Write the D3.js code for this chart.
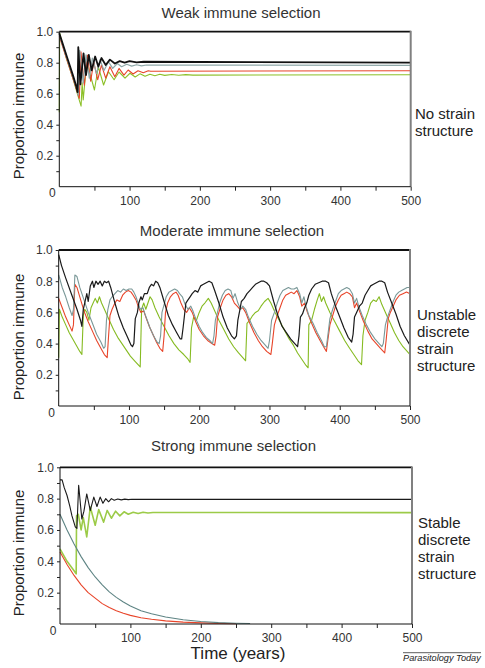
<!DOCTYPE html>
<html>
<head>
<meta charset="utf-8">
<script src="https://cdnjs.cloudflare.com/ajax/libs/d3/7.8.5/d3.min.js"></script>
<style>
  body { margin: 0; background: #fff; }
  svg { display: block; }
  text { font-family: "Liberation Sans", Arial, sans-serif; }
</style>
</head>
<body>
<div id="chart"></div>
<script>

// ---------------- data (time in years, proportion immune) ----------------

var panelTitles = ["Weak immune selection", "Moderate immune selection", "Strong immune selection"];
var sideNotes = [
    ["No strain", "structure"],
    ["Unstable", "discrete", "strain", "structure"],
    ["Stable", "discrete", "strain", "structure"]
];
var yMajor = [0.2, 0.4, 0.6, 0.8, 1.0];
var yMinor = [0.1, 0.3, 0.5, 0.7, 0.9];
var xTicks = [50, 100, 150, 200, 250, 300, 350, 400, 450, 500];
var xLabelled = [100, 200, 300, 400, 500];

// weak immune selection
var weakBlack = [[0,0.99],[5,0.92],[10,0.85],[15,0.78],[20,0.71],[24,0.65],[26,0.61],[27,0.90],[30,0.66],[34.5,0.86],[38,0.72],[42,0.85],[46,0.75],[51,0.84],[55.5,0.775],[60,0.83],[66,0.785],[72,0.82],[79,0.795],[86,0.81],[93,0.80],[100,0.81],[110,0.802],[120,0.806],[500,0.80]];
var weakGray = [[0,0.98],[5,0.91],[10,0.84],[15,0.77],[20,0.70],[25,0.63],[27,0.59],[29,0.88],[34,0.67],[38,0.85],[42.7,0.70],[47,0.83],[53,0.73],[58,0.82],[63.6,0.75],[70,0.806],[76,0.763],[82.5,0.795],[88.7,0.774],[96,0.79],[103,0.778],[110,0.787],[117,0.78],[124,0.785],[500,0.783]];
var weakRed = [[0,0.97],[5,0.90],[10,0.83],[15,0.76],[20,0.69],[25,0.62],[28.5,0.57],[30.8,0.87],[35.6,0.655],[40,0.85],[44.6,0.68],[49,0.806],[54.6,0.69],[60,0.785],[66,0.70],[72,0.774],[79,0.71],[85,0.763],[92,0.72],[98,0.753],[105,0.727],[112,0.748],[119.5,0.735],[126.6,0.748],[130,0.745],[500,0.748]];
var weakGreen = [[0,0.48],[0.5,0.99],[5,0.91],[10,0.83],[15,0.76],[20,0.69],[25,0.61],[31,0.52],[32.5,0.67],[34,0.56],[39,0.806],[50,0.624],[55.5,0.774],[63,0.656],[70,0.742],[78,0.69],[85,0.74],[93.5,0.70],[100.6,0.732],[108,0.708],[114.8,0.728],[122,0.713],[129,0.726],[136,0.716],[143,0.725],[150,0.718],[160,0.724],[170,0.719],[180,0.723],[190,0.72],[500,0.722]];

// moderate immune selection
var modBlack = [[0,0.97],[4,0.90],[10,0.82],[18,0.72],[26,0.62],[31,0.55],[33,0.51],[35,0.62],[37,0.66],[40,0.72],[42,0.67],[45,0.77],[48,0.80],[50,0.76],[53,0.80],[56,0.78],[59,0.80],[62,0.77],[65,0.80],[68,0.79],[71,0.80],[74,0.76],[80,0.66],[86,0.57],[92,0.50],[98,0.44],[103,0.39],[105,0.38],[107,0.40],[109,0.56],[112,0.60],[114,0.66],[117,0.70],[119,0.68],[122,0.72],[126,0.72],[129,0.76],[132,0.78],[135,0.77],[138,0.80],[141,0.79],[144,0.76],[150,0.67],[156,0.58],[162,0.52],[168,0.47],[173,0.43],[175,0.43],[177,0.50],[179,0.58],[181,0.66],[184,0.68],[187,0.70],[190,0.72],[194,0.74],[198,0.73],[202,0.77],[206,0.78],[210,0.79],[214,0.80],[218,0.79],[222,0.74],[228,0.66],[234,0.57],[240,0.50],[246,0.45],[250,0.43],[253,0.45],[255,0.55],[258,0.62],[260,0.67],[264,0.69],[268,0.72],[272,0.74],[276,0.76],[280,0.78],[284,0.79],[288,0.80],[292,0.80],[296,0.79],[300,0.77],[306,0.67],[312,0.58],[318,0.51],[324,0.47],[330,0.43],[336,0.40],[340,0.38],[342,0.45],[344,0.57],[347,0.59],[350,0.63],[353,0.66],[356,0.71],[360,0.75],[365,0.78],[370,0.79],[375,0.80],[380,0.80],[384,0.79],[388,0.72],[394,0.64],[400,0.57],[406,0.50],[412,0.44],[417,0.41],[419,0.46],[421,0.57],[424,0.60],[428,0.64],[432,0.66],[436,0.71],[440,0.74],[444,0.77],[448,0.78],[452,0.79],[456,0.80],[460,0.80],[464,0.79],[468,0.73],[474,0.66],[480,0.59],[486,0.51],[492,0.45],[500,0.39]];
var modGray = [[0,0.84],[5,0.76],[10,0.70],[15,0.63],[19,0.58],[21,0.62],[23,0.84],[26,0.83],[30,0.76],[36,0.68],[42,0.60],[48,0.53],[54,0.46],[60,0.41],[64,0.37],[66,0.38],[68,0.55],[70,0.62],[73,0.68],[76,0.70],[80,0.72],[84,0.74],[88,0.73],[92,0.75],[96,0.74],[100,0.75],[104,0.75],[107,0.73],[110,0.70],[113,0.66],[116,0.62],[120,0.63],[122,0.60],[126,0.55],[130,0.50],[135,0.45],[140,0.41],[143,0.40],[145,0.45],[147,0.60],[150,0.65],[153,0.70],[157,0.73],[161,0.74],[165,0.75],[169,0.74],[172,0.72],[176,0.70],[180,0.65],[184,0.62],[188,0.64],[191,0.61],[195,0.56],[200,0.51],[205,0.47],[210,0.44],[215,0.42],[219,0.40],[221,0.45],[223,0.55],[226,0.60],[229,0.66],[233,0.71],[237,0.74],[241,0.75],[245,0.74],[248,0.69],[251,0.72],[255,0.66],[259,0.62],[262,0.64],[266,0.62],[270,0.57],[276,0.51],[282,0.46],[288,0.42],[294,0.39],[298,0.37],[300,0.42],[303,0.55],[307,0.60],[311,0.66],[315,0.71],[319,0.74],[323,0.75],[327,0.76],[331,0.75],[335,0.75],[339,0.76],[343,0.72],[346,0.66],[349,0.70],[352,0.64],[356,0.58],[362,0.53],[368,0.47],[374,0.42],[378,0.38],[381,0.38],[383,0.45],[386,0.56],[390,0.62],[394,0.67],[398,0.72],[402,0.74],[406,0.75],[410,0.76],[414,0.75],[418,0.72],[421,0.66],[424,0.69],[427,0.64],[432,0.58],[438,0.52],[444,0.47],[450,0.43],[456,0.40],[460,0.38],[462,0.40],[465,0.52],[468,0.57],[472,0.62],[476,0.67],[480,0.71],[484,0.73],[488,0.74],[492,0.75],[496,0.76],[500,0.76]];
var modRed = [[0,0.69],[5,0.63],[10,0.57],[15,0.52],[19,0.48],[21,0.52],[23,0.78],[26,0.76],[30,0.70],[36,0.61],[42,0.54],[48,0.48],[54,0.42],[60,0.37],[65,0.33],[69,0.31],[71,0.45],[73,0.58],[76,0.62],[80,0.66],[83,0.68],[87,0.67],[91,0.71],[95,0.73],[99,0.74],[103,0.73],[106,0.71],[110,0.68],[113,0.64],[117,0.60],[121,0.61],[124,0.57],[129,0.51],[134,0.46],[139,0.41],[144,0.37],[148,0.35],[150,0.45],[152,0.60],[155,0.66],[159,0.70],[163,0.72],[167,0.73],[170,0.71],[174,0.66],[178,0.62],[182,0.60],[186,0.63],[190,0.60],[195,0.54],[200,0.49],[206,0.45],[212,0.42],[218,0.40],[222,0.39],[224,0.45],[226,0.57],[230,0.63],[234,0.68],[238,0.71],[242,0.72],[246,0.70],[250,0.66],[254,0.64],[258,0.62],[262,0.63],[266,0.60],[272,0.53],[278,0.47],[284,0.42],[290,0.38],[296,0.35],[302,0.33],[304,0.40],[307,0.52],[311,0.58],[315,0.63],[319,0.68],[323,0.71],[327,0.72],[331,0.73],[335,0.72],[339,0.74],[343,0.70],[346,0.64],[350,0.66],[354,0.60],[360,0.53],[366,0.47],[372,0.42],[377,0.38],[381,0.35],[383,0.42],[386,0.52],[390,0.58],[394,0.64],[398,0.68],[402,0.71],[406,0.72],[410,0.73],[414,0.72],[418,0.70],[421,0.63],[424,0.66],[428,0.61],[434,0.54],[440,0.48],[446,0.43],[452,0.40],[458,0.37],[464,0.34],[466,0.42],[469,0.56],[472,0.60],[476,0.64],[480,0.68],[485,0.71],[490,0.72],[495,0.73],[500,0.72]];
var modGreen = [[0,0.31],[1,0.62],[5,0.57],[10,0.52],[15,0.47],[20,0.43],[25,0.39],[30,0.35],[33,0.33],[35,0.58],[37,0.62],[40,0.60],[43,0.55],[46,0.63],[49,0.66],[52,0.69],[55,0.66],[58,0.70],[61,0.66],[66,0.61],[72,0.55],[78,0.49],[84,0.44],[90,0.40],[96,0.36],[102,0.32],[108,0.29],[114,0.26],[116,0.25],[118,0.62],[121,0.66],[124,0.62],[127,0.66],[130,0.70],[133,0.68],[137,0.63],[143,0.57],[150,0.51],[157,0.45],[164,0.40],[171,0.36],[178,0.33],[184,0.30],[187,0.28],[189,0.50],[192,0.57],[196,0.55],[200,0.60],[204,0.64],[208,0.66],[213,0.69],[217,0.66],[221,0.62],[228,0.55],[235,0.49],[242,0.43],[249,0.38],[256,0.34],[262,0.31],[266,0.29],[268,0.53],[272,0.55],[276,0.58],[280,0.60],[284,0.61],[288,0.64],[293,0.67],[298,0.69],[302,0.66],[308,0.60],[315,0.54],[322,0.48],[328,0.43],[334,0.39],[340,0.34],[346,0.30],[352,0.26],[355,0.245],[356,0.52],[360,0.55],[364,0.62],[368,0.68],[371,0.72],[374,0.67],[377,0.70],[380,0.66],[386,0.60],[393,0.54],[400,0.48],[407,0.42],[414,0.37],[420,0.33],[426,0.29],[431,0.265],[433,0.45],[436,0.55],[440,0.60],[444,0.66],[448,0.68],[452,0.67],[456,0.70],[460,0.65],[466,0.59],[472,0.53],[478,0.47],[484,0.42],[490,0.38],[496,0.35],[500,0.33]];

// strong immune selection
var strongBlack = [[0,0.92],[3,0.92],[6,0.87],[10,0.82],[14,0.75],[17,0.69],[21.7,0.62],[24,0.61],[26.5,0.885],[31,0.67],[34,0.72],[38,0.83],[43,0.725],[48,0.81],[52.5,0.75],[57,0.81],[61,0.77],[65,0.80],[69,0.78],[73,0.80],[77,0.79],[82,0.798],[87,0.792],[92,0.797],[97,0.794],[102,0.796],[500,0.795]];
var strongGreen = [[0,0.48],[5,0.44],[10,0.40],[15,0.37],[20,0.34],[23,0.32],[23.5,0.69],[26,0.70],[30,0.60],[33,0.68],[38,0.556],[43,0.747],[50,0.63],[55,0.73],[62,0.65],[67,0.725],[73,0.675],[79,0.72],[85,0.69],[91,0.716],[97,0.70],[104,0.713],[111,0.705],[118,0.713],[125,0.708],[132,0.712],[500,0.711]];
var strongGray = [[0,0.70],[10,0.60],[20,0.51],[30,0.43],[40,0.36],[50,0.30],[60,0.25],[70,0.205],[80,0.17],[90,0.14],[100,0.115],[115,0.085],[130,0.065],[150,0.045],[175,0.027],[200,0.016],[225,0.009],[250,0.005],[270,0.003]];
var strongRed = [[0,0.46],[10,0.38],[20,0.31],[30,0.25],[40,0.20],[50,0.165],[60,0.13],[70,0.105],[80,0.085],[90,0.068],[100,0.055],[115,0.04],[130,0.03],[150,0.02],[175,0.012],[200,0.007],[225,0.004],[250,0.002]];

// per panel: green, red, gray, black
var panelColors = [
    ["#8cc028", "#e8452a", "#8ea8a8", "#111111"],
    ["#86bb22", "#e8452a", "#7a9898", "#1a1a1a"],
    ["#9ccb48", "#e8452a", "#5e8484", "#1a1a1a"]
];
var panelWidths = [
    [1.1, 1.1, 1.2, 1.8],
    [1.1, 1.1, 1.1, 1.2],
    [1.6, 1.1, 1.1, 1.1]
];

var panelSeries = [
    [weakGreen, weakRed, weakGray, weakBlack],
    [modGreen, modRed, modGray, modBlack],
    [strongGreen, strongRed, strongGray, strongBlack]
];

// ---------------- layout ----------------

var width = 485, height = 668;

var layout = [
    { x0: 59.3, x1: 410.7, yt: 31.7, yb: 186.7, titleX: 241, titleY: 18, sideX: 415, sideY: 118.5, labelY: 116 },
    { x0: 58.7, x1: 410, yt: 250, yb: 406, titleX: 232, titleY: 236, sideX: 417, sideY: 320, labelY: 337 },
    { x0: 60, x1: 412, yt: 467.3, yb: 624, titleX: 233.5, titleY: 451, sideX: 418, sideY: 528, labelY: 553 }
];

var svg = d3.select("#chart").append("svg")
    .attr("width", width)
    .attr("height", height);

svg.append("rect").attr("width", width).attr("height", height).attr("fill", "#fff");

layout.forEach(function(L, p) {

    var x = d3.scaleLinear().domain([0, 500]).range([L.x0, L.x1]);
    var y = d3.scaleLinear().domain([0, 1]).range([L.yb, L.yt]);

    var g = svg.append("g");

    // title
    g.append("text")
        .attr("x", L.titleX)
        .attr("y", L.titleY)
        .attr("text-anchor", "middle")
        .attr("font-size", 15)
        .attr("fill", "#333")
        .text(panelTitles[p]);

    // y label
    g.append("text")
        .attr("transform", "translate(24," + L.labelY + ") rotate(-90)")
        .attr("text-anchor", "middle")
        .attr("font-size", 15)
        .attr("fill", "#222")
        .text("Proportion immune");

    // side notes
    sideNotes[p].forEach(function(s, i) {
        g.append("text")
            .attr("x", L.sideX)
            .attr("y", L.sideY + i * 17)
            .attr("font-size", 15)
            .attr("fill", "#222")
            .text(s);
    });

    // series lines
    var line = d3.line()
        .x(function(d) { return x(d[0]); })
        .y(function(d) { return y(d[1]); });

    panelSeries[p].forEach(function(s, i) {
        g.append("path")
            .datum(s)
            .attr("d", line)
            .attr("fill", "none")
            .attr("stroke", panelColors[p][i])
            .attr("stroke-width", panelWidths[p][i])
            .attr("stroke-linejoin", "round");
    });

    // frame: top black, right gray
    g.append("line")
        .attr("x1", L.x0).attr("x2", L.x1)
        .attr("y1", L.yt).attr("y2", L.yt)
        .attr("stroke", "#111").attr("stroke-width", 1.8);
    g.append("line")
        .attr("x1", L.x1).attr("x2", L.x1)
        .attr("y1", L.yt - 0.9).attr("y2", L.yb)
        .attr("stroke", "#808080").attr("stroke-width", 2);

    // y axis
    var yAxis = d3.axisLeft(y)
        .tickValues(yMajor)
        .tickSize(3)
        .tickPadding(3)
        .tickFormat(d3.format(".1f"));
    var ya = g.append("g")
        .attr("transform", "translate(" + L.x0 + ",0)")
        .call(yAxis);
    var yMinorAxis = d3.axisLeft(y).tickValues(yMinor).tickSize(3).tickFormat("");
    var ym = g.append("g")
        .attr("transform", "translate(" + L.x0 + ",0)")
        .call(yMinorAxis);
    ym.select(".domain").remove();

    // x axis
    var xAxis = d3.axisBottom(x)
        .tickValues(xTicks)
        .tickSize(4)
        .tickPadding(5.5)
        .tickFormat(function(d) { return xLabelled.indexOf(d) >= 0 ? d : ""; });
    var xa = g.append("g")
        .attr("transform", "translate(0," + L.yb + ")")
        .call(xAxis);

    [ya, ym, xa].forEach(function(a) {
        a.selectAll(".domain").attr("stroke", "#111").attr("stroke-width", 1);
        a.selectAll(".tick line").attr("stroke", "#222");
        a.selectAll("text")
            .attr("font-size", 12)
            .attr("fill", "#333")
            .style("font-family", "\"Liberation Sans\", Arial, sans-serif");
    });
    ya.select(".domain").attr("d", "M0," + L.yt + "V" + L.yb);
    xa.select(".domain").attr("d", "M" + L.x0 + ",0H" + L.x1);

    // shared zero at the corner
    g.append("text")
        .attr("x", L.x0 - 7)
        .attr("y", L.yb + 10.5)
        .attr("text-anchor", "middle")
        .attr("font-size", 12)
        .attr("fill", "#333")
        .text("0");
});

// x axis title and credit
svg.append("text")
    .attr("x", 238)
    .attr("y", 659)
    .attr("text-anchor", "middle")
    .attr("font-size", 17)
    .attr("fill", "#222")
    .text("Time (years)");

svg.append("line")
    .attr("x1", 403).attr("x2", 481)
    .attr("y1", 652.7).attr("y2", 652.7)
    .attr("stroke", "#333").attr("stroke-width", 0.8);
svg.append("text")
    .attr("x", 403)
    .attr("y", 660.5)
    .attr("font-size", 9.2)
    .attr("font-style", "italic")
    .attr("fill", "#222")
    .text("Parasitology Today");

</script>
</body>
</html>
